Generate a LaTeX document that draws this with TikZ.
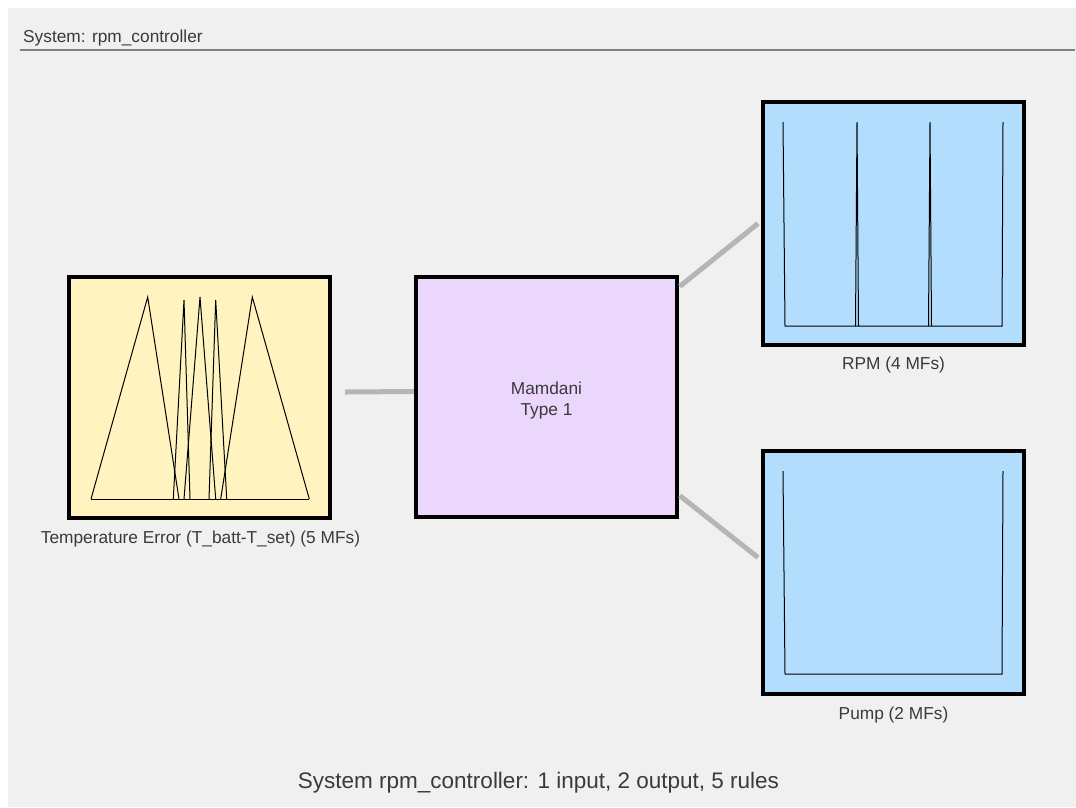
\documentclass[tikz,border=0pt]{standalone}
\usepackage{fontspec}
\setmainfont{Liberation Sans}
\usetikzlibrary{positioning}
\definecolor{panelgray}{HTML}{F0F0F0}
\definecolor{rulegray}{HTML}{7F7F7F}
\definecolor{linkgray}{HTML}{B5B5B5}
\definecolor{inputfill}{HTML}{FFF4C0}
\definecolor{fisfill}{HTML}{EBD6FC}
\definecolor{outputfill}{HTML}{B3DDFD}
\definecolor{labeltext}{HTML}{3A3A3A}

\begin{document}
\begin{tikzpicture}[x=1pt, y=-1pt,
    varbox/.style={draw=black, line width=4pt, minimum width=261pt, minimum height=243pt, inner sep=0pt},
    link/.style={draw=linkgray, line width=5pt},
    mf/.style={draw=black, line width=1pt},
    caption/.style={font=\fontsize{17.3}{21}\selectfont, text=labeltext, inner sep=0pt, anchor=base}]
    \useasboundingbox (0,0) rectangle (1076,807);
    \fill[panelgray] (8,8) rectangle (1076,807);
    % header
    \node[caption, anchor=base west] (title) at (23,42) {System: rpm\_controller};
    \draw[rulegray, line width=1.3pt] (20,50) -- (1075,50);
    % boxes
    \node[varbox, fill=inputfill, minimum height=241pt] (input) at (199.5,397.5) {};
    \node[varbox, fill=fisfill, minimum height=240pt] (fis) at (546.5,397) {};
    \node[caption, anchor=base, align=center] (fistext) at ([yshift=-18pt]fis.center) {Mamdani\\Type 1};
    \node[varbox, fill=outputfill] (rpm) at (893.5,223.5) {};
    \node[varbox, fill=outputfill] (pump) at (893.5,572.5) {};
    % links
    \draw[link] ([xshift=13pt, yshift=5.5pt]input.east) -- ([yshift=5.5pt]fis.west);
    \draw[link, shorten <=1pt] ([yshift=-12pt]fis.north east) -- ([xshift=-3pt]rpm.west);
    \draw[link, shorten <=1pt] ([yshift=24pt]fis.south east) -- ([xshift=-3pt, yshift=15pt]pump.west);
    % input MFs
    \draw[mf] (91,499) -- (309,499);
    \foreach \a/\b/\c/\t in {91/147.7/179/297, 173.3/184/190/300, 184/200/215.7/297,
                             209/215.7/226.7/300, 220.7/252.3/309.3/297}
        \draw[mf] (\a,499) -- (\b,\t) -- (\c,499);
    % output MFs
    \draw[mf] (783,122) -- (785,326) -- (1002,326) -- (1003,122);
    \foreach \p in {857,930}
        \draw[mf] (\p-1.5,326) -- (\p,122) -- (\p+1.5,326);
    \draw[mf] (783,471) -- (785,674) -- (1002,674) -- (1003,471);
    % labels
    \node[caption] (inlab) at (200.5,543) {Temperature Error (T\_batt-T\_set) (5 MFs)};
    \node[caption] (rpmlab) at (893.5,369) {RPM (4 MFs)};
    \node[caption] (pumplab) at (893.5,719) {Pump (2 MFs)};
    \node[caption, font=\fontsize{22.5}{27}\selectfont] (summary) at (538.5,788)
        {System rpm\_controller: 1 input, 2 output, 5 rules};
\end{tikzpicture}
\end{document}
